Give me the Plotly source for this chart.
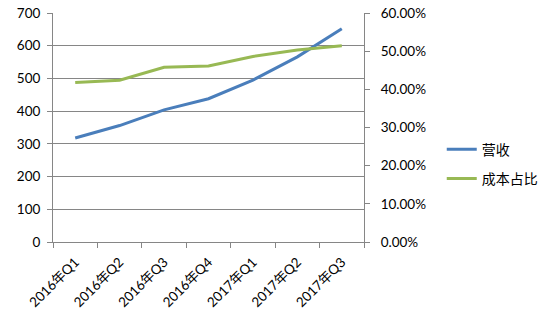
import plotly.graph_objects as go

categories = ["2016年Q1", "2016年Q2", "2016年Q3", "2016年Q4", "2017年Q1", "2017年Q2", "2017年Q3"]
revenue = [318, 356, 404, 438, 495, 566, 652]
cost_ratio = [0.418, 0.424, 0.458, 0.461, 0.486, 0.503, 0.514]

FONT = "Lato, 'Noto Sans CJK SC', sans-serif"
GRID = "#868686"

fig = go.Figure()
fig.add_trace(go.Scatter(x=categories, y=revenue, name="营收", mode="lines",
                         line=dict(color="#4A7EBB", width=3), legendgroup="a"))
fig.add_trace(go.Scatter(x=categories, y=cost_ratio, name="成本占比", mode="lines",
                         line=dict(color="#98B954", width=3), yaxis="y2", legendgroup="b"))

fig.update_layout(
    width=550, height=327,
    margin=dict(l=53, r=186, t=13, b=85, autoexpand=False),
    paper_bgcolor="white", plot_bgcolor="white",
    font=dict(family=FONT, size=13.5, color="#000000"),
    xaxis=dict(type="category", range=[-0.5, 6.5], tickson="boundaries",
               ticks="outside", ticklen=5, tickcolor=GRID, showgrid=False,
               showline=True, linecolor=GRID, linewidth=1, tickangle=-45,
               ticklabelstandoff=6, automargin=False),
    yaxis=dict(range=[0, 700], dtick=100, ticks="outside", ticklen=5, tickcolor=GRID,
               showgrid=True, gridcolor=GRID, gridwidth=1, showline=True,
               linecolor=GRID, zeroline=False, automargin=False, ticklabelstandoff=4),
    yaxis2=dict(range=[0, 0.6], dtick=0.1, tickformat=".2%", overlaying="y", side="right",
                ticks="outside", ticklen=5, tickcolor=GRID, showgrid=False, showline=True,
                linecolor=GRID, zeroline=False, automargin=False, ticklabelstandoff=8),
    legend=dict(x=1.25, y=0.34, xanchor="left", yanchor="middle", tracegroupgap=8,
                itemwidth=30, font=dict(size=14), bgcolor="rgba(0,0,0,0)"),
    showlegend=True,
)

fig.write_html("out.html")
